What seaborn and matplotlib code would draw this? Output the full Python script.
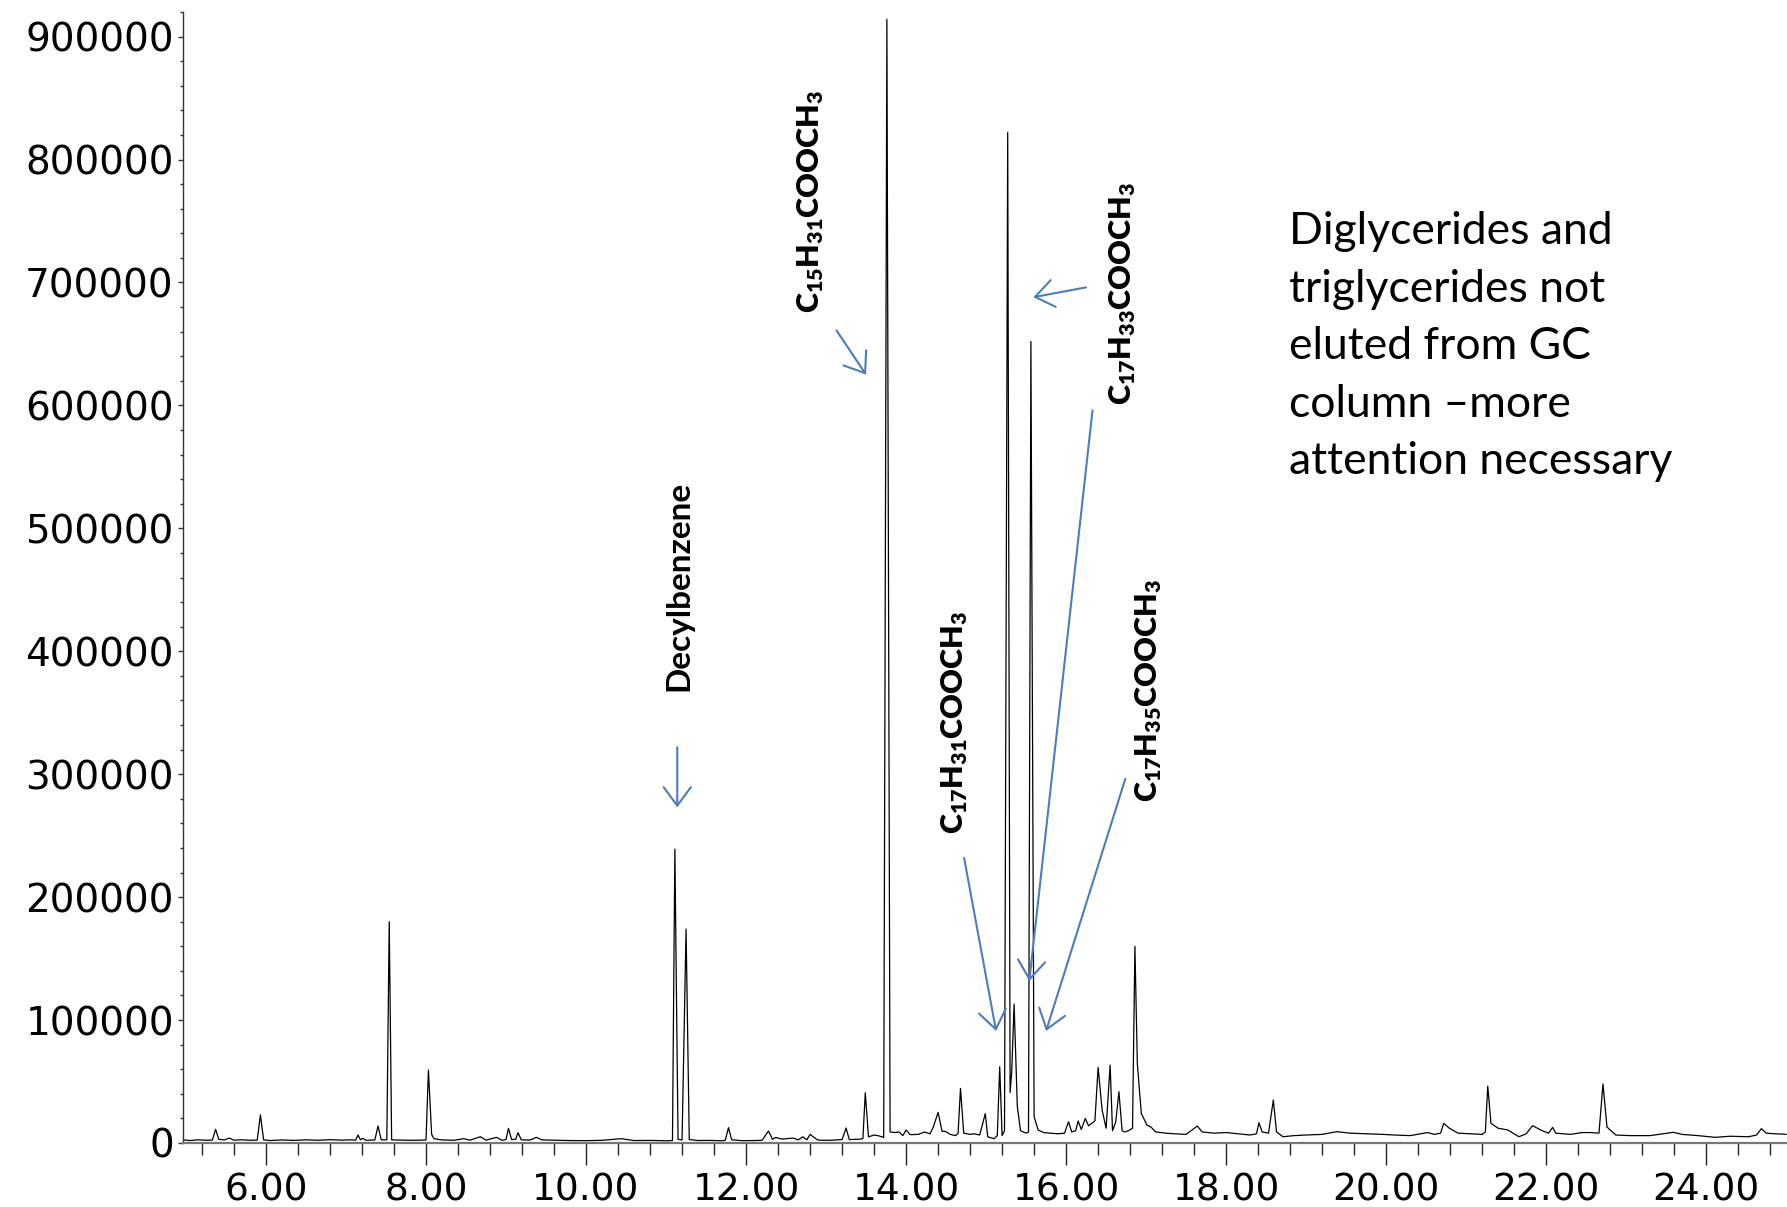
import matplotlib
matplotlib.use("Agg")
import matplotlib.pyplot as plt
from matplotlib.ticker import MultipleLocator, FormatStrFormatter
import pandas as pd
import seaborn as sns

# retention time (min) and abundance
rt_min = [
    4.97, 5.05, 5.15, 5.25, 5.33, 5.37, 5.41, 5.48, 5.54, 5.60, 5.70, 5.80, 5.89, 5.93, 5.97,
    6.05, 6.20, 6.35, 6.50, 6.65, 6.80, 6.95, 7.05, 7.12, 7.15, 7.18, 7.21, 7.25, 7.36, 7.40,
    7.44, 7.51, 7.54, 7.57, 7.65, 7.80, 7.95, 8.00, 8.03, 8.07, 8.10, 8.20, 8.35, 8.47, 8.55,
    8.68, 8.75, 8.88, 8.95, 9.00, 9.03, 9.07, 9.12, 9.15, 9.19, 9.30, 9.38, 9.45, 9.60, 9.80,
    10.00, 10.20, 10.44, 10.60, 10.80, 11.00, 11.08, 11.11, 11.15, 11.20, 11.25, 11.29, 11.40,
    11.55, 11.70, 11.74, 11.78, 11.82, 11.95, 12.10, 12.20, 12.28, 12.33, 12.37, 12.45, 12.59,
    12.65, 12.71, 12.76, 12.80, 12.85, 12.90, 13.05, 13.20, 13.25, 13.29, 13.40, 13.46, 13.49,
    13.53, 13.60, 13.66, 13.72, 13.76, 13.80, 13.86, 13.91, 13.96, 14.00, 14.05, 14.15, 14.23,
    14.30, 14.34, 14.40, 14.45, 14.49, 14.55, 14.62, 14.65, 14.68, 14.72, 14.80, 14.85, 14.92,
    14.99, 15.02, 15.10, 15.14, 15.17, 15.20, 15.23, 15.27, 15.30, 15.32, 15.35, 15.39, 15.43,
    15.50, 15.53, 15.56, 15.60, 15.65, 15.72, 15.80, 15.90, 15.98, 16.03, 16.07, 16.12, 16.15,
    16.19, 16.24, 16.28, 16.32, 16.36, 16.40, 16.45, 16.50, 16.55, 16.58, 16.62, 16.66, 16.70,
    16.73, 16.78, 16.83, 16.86, 16.89, 16.94, 17.01, 17.06, 17.12, 17.25, 17.35, 17.50, 17.64,
    17.70, 17.85, 18.00, 18.15, 18.30, 18.38, 18.41, 18.45, 18.53, 18.59, 18.63, 18.71, 18.85,
    19.00, 19.20, 19.38, 19.55, 19.75, 19.96, 20.10, 20.30, 20.52, 20.60, 20.68, 20.72, 20.79,
    20.90, 21.05, 21.20, 21.24, 21.27, 21.31, 21.40, 21.52, 21.60, 21.66, 21.75, 21.83, 21.89,
    21.95, 22.03, 22.08, 22.12, 22.30, 22.45, 22.55, 22.66, 22.71, 22.76, 22.87, 23.05, 23.30,
    23.59, 23.70, 23.90, 24.11, 24.30, 24.53, 24.63, 24.69, 24.75, 24.85, 24.95, 25.00,
]
abundance = [
    2500, 2000, 2600, 2200, 2400, 11100, 3000, 2500, 4000, 2300, 2600, 2200, 2400, 22800, 2600,
    2000, 2500, 2100, 2600, 2200, 2700, 2300, 2600, 2300, 6500, 2600, 3800, 2200, 2500, 13800,
    2600, 2600, 180000, 2600, 2400, 2200, 2300, 2500, 59300, 7000, 3500, 2500, 2200, 3500, 2300,
    5100, 2300, 4600, 2200, 2800, 11900, 2800, 3000, 8400, 2600, 2400, 4600, 2500, 2300, 2000,
    1900, 2200, 3500, 2000, 2100, 1800, 2000, 239000, 3000, 2500, 174000, 2800, 2000,
    2100, 1800, 2200, 12500, 2600, 1900, 2000, 2200, 9800, 3000, 4500, 3200, 4000,
    2500, 5000, 2600, 7000, 4500, 2300, 2200, 2800, 12200, 2800, 3000, 3500, 40900,
    5000, 6500, 5800, 4500, 914000, 9000, 8500, 9000, 6000, 10600, 6800, 7000, 8900,
    7500, 13000, 24900, 9500, 9500, 7000, 6000, 8000, 44400, 8000, 7000, 7500, 6500,
    24000, 5000, 3500, 6000, 62000, 6000, 10000, 822000, 41000, 58000, 113000, 30000, 10000,
    8000, 9000, 652000, 21400, 10600, 8500, 8000, 7500, 8000, 17300, 9000, 10000, 17900,
    11000, 20000, 14000, 16000, 18000, 61500, 26800, 12000, 63400, 10000, 17000, 41700, 10000,
    9000, 10000, 12000, 160000, 64800, 24000, 14600, 13000, 9000, 8000, 7500, 7000, 13800,
    9000, 8000, 8500, 7500, 6500, 7500, 16500, 9000, 8000, 35000, 9000, 5100, 6000,
    6500, 7000, 9200, 8000, 7500, 7000, 6500, 6000, 8500, 7000, 8000, 16000, 12000,
    8000, 7500, 7000, 9000, 46300, 16000, 12000, 10600, 7500, 5100, 7500, 14100, 12000,
    10000, 8000, 12700, 8000, 7000, 8500, 8500, 8000, 48000, 13000, 6500, 6000, 6000,
    8700, 7000, 6000, 4600, 5500, 5100, 6500, 11700, 8000, 7500, 7300, 7000,
]

x_ticks = [6, 8, 10, 12, 14, 16, 18, 20, 22, 24]
y_ticks = [0, 100000, 200000, 300000, 400000, 500000, 600000, 700000, 800000, 900000]

peak_names = [
    "Decylbenzene",
    r"$\mathbf{C_{15}H_{31}COOCH_3}$",
    r"$\mathbf{C_{17}H_{33}COOCH_3}$",
    r"$\mathbf{C_{17}H_{31}COOCH_3}$",
    r"$\mathbf{C_{17}H_{35}COOCH_3}$",
]
note_text = "Diglycerides and\ntriglycerides not\neluted from GC\ncolumn \u2013more\nattention necessary"

ARROW_BLUE = "#4a7ebb"


def main():
    df = pd.DataFrame({"rt": rt_min, "abundance": abundance})

    sns.set_theme(style="ticks")
    plt.rcParams["font.family"] = ["DejaVu Sans"]
    # formula labels drawn in heavy Lato, subscripts included
    plt.rcParams["mathtext.fontset"] = "custom"
    plt.rcParams["mathtext.rm"] = "Lato:bold"
    plt.rcParams["mathtext.bf"] = "Lato:heavy"

    fig = plt.figure(figsize=(17.87, 12.07), dpi=100)
    ax = fig.add_axes([183 / 1787, 64 / 1207, 1604 / 1787, 1131 / 1207])

    sns.lineplot(data=df, x="rt", y="abundance", ax=ax, color="black",
                 linewidth=0.9, estimator=None, sort=False)

    ax.set_xlim(4.9625, 25.01)
    ax.set_ylim(0, 920000)
    ax.set_xlabel("")
    ax.set_ylabel("")
    ax.set_xticks(x_ticks)
    ax.set_yticks(y_ticks)
    ax.xaxis.set_major_formatter(FormatStrFormatter("%.2f"))
    ax.yaxis.set_major_formatter(FormatStrFormatter("%d"))
    ax.xaxis.set_minor_locator(MultipleLocator(0.4))
    ax.yaxis.set_minor_locator(MultipleLocator(20000))

    for s in ["top", "right"]:
        ax.spines[s].set_visible(False)
    ax.spines["left"].set_color("#333333")
    ax.spines["left"].set_linewidth(1.0)
    ax.spines["bottom"].set_color("#777777")
    ax.spines["bottom"].set_linewidth(1.6)

    ax.tick_params(axis="x", which="major", direction="out", length=16, width=1.0,
                   color="#222222", labelsize=27, labelcolor="black", pad=5)
    ax.tick_params(axis="x", which="minor", direction="out", length=8.5, width=1.0,
                   color="#222222")
    ax.tick_params(axis="y", which="major", direction="out", length=3.6, width=1.0,
                   color="#333333", labelsize=28, labelcolor="black", pad=3)
    ax.tick_params(axis="y", which="minor", direction="out", length=2.2, width=1.0,
                   color="#333333")

    # rotated peak labels with blue arrows
    label_pos = [(11.16, 368000), (12.81, 675000), (16.71, 600000),
                 (14.61, 251000), (17.025, 277500)]
    label_size = [24, 22, 22, 22, 22]
    for name, (lx, ly), fs in zip(peak_names, label_pos, label_size):
        ax.text(lx, ly, name, family=["Lato", "DejaVu Sans"], fontweight="bold",
                fontsize=fs, rotation=90, ha="center", va="bottom", color="black")

    arrows = [
        ((11.14, 322000), (11.14, 273000)),
        ((13.13, 661000), (13.50, 625000)),
        ((16.25, 696000), (15.59, 688000)),
        ((16.33, 596000), (15.54, 131800)),
        ((14.725, 231900), (15.125, 91100)),
        ((16.74, 296200), (15.75, 91100)),
    ]
    for tail, tip in arrows:
        ax.annotate("", xy=tip, xytext=tail,
                    arrowprops=dict(arrowstyle="->,head_length=0.95,head_width=0.7",
                                    color=ARROW_BLUE, lw=1.5, shrinkA=0, shrinkB=0,
                                    mutation_scale=14))

    ax.text(18.79, 758000, note_text, family=["Lato", "DejaVu Sans"], fontsize=32,
            ha="left", va="top", linespacing=1.5, color="black")

    fig.savefig("out.png", dpi=100)
    plt.close(fig)


if __name__ == "__main__":
    main()
